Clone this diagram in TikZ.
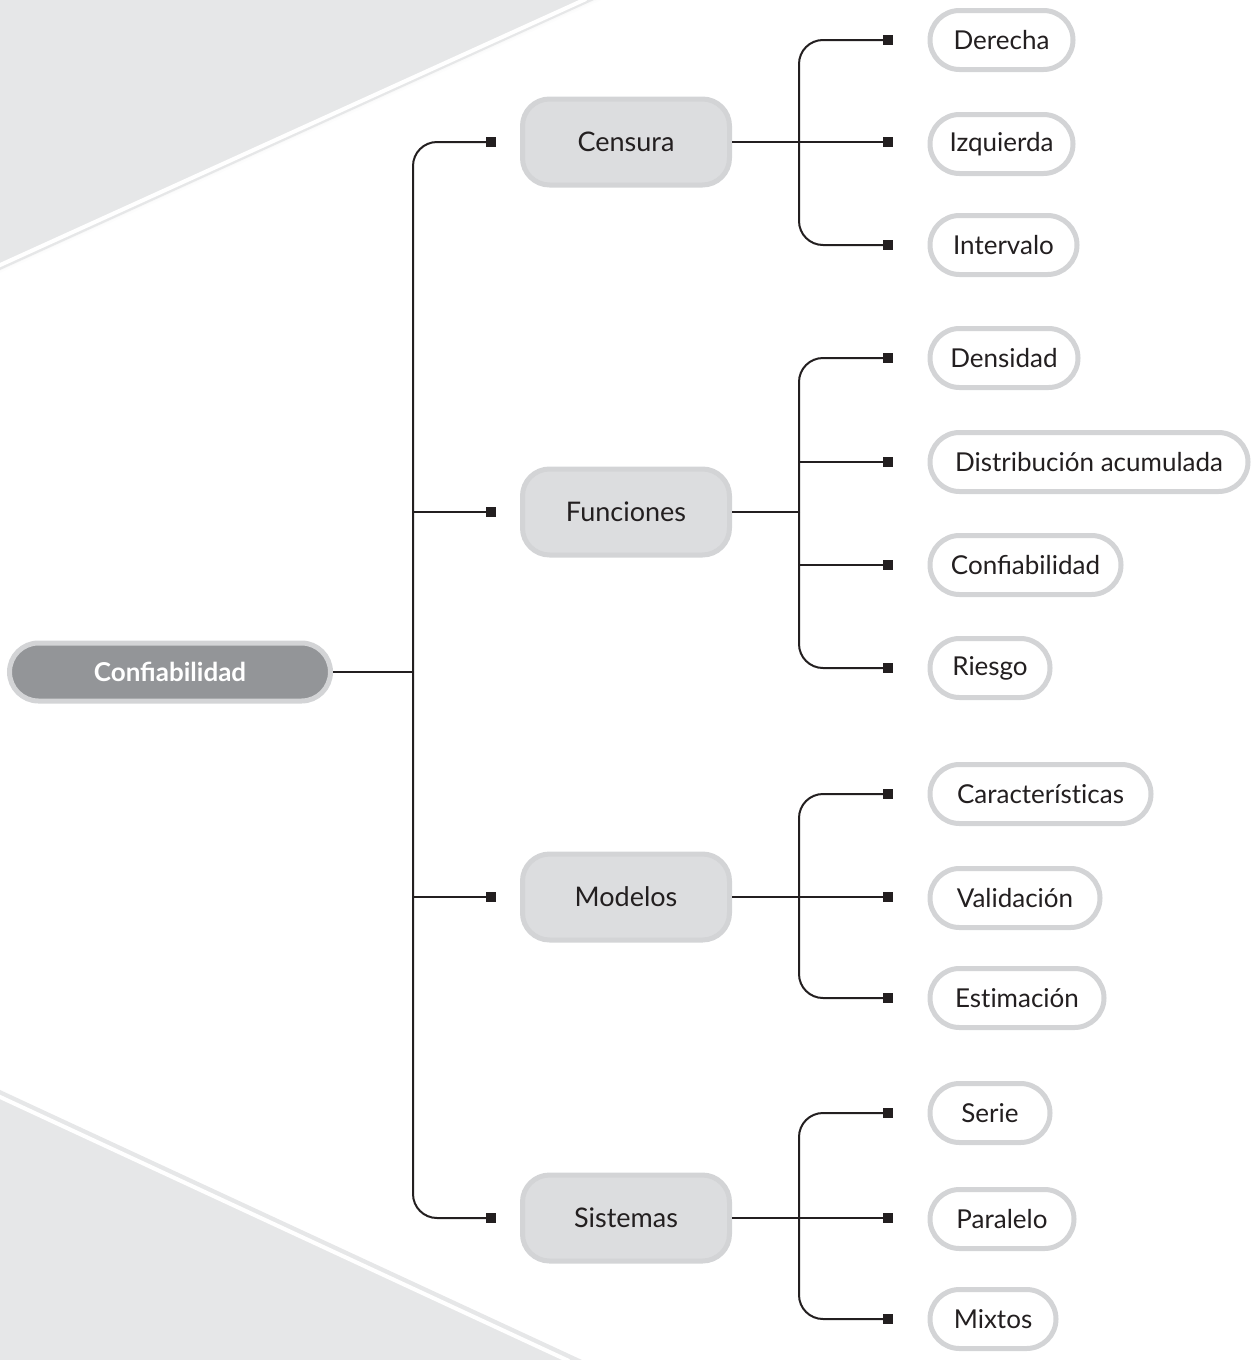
\documentclass[tikz,border=0pt]{standalone}
\usepackage{fontspec}
\setmainfont{Lato}
\usetikzlibrary{arrows.meta}
\definecolor{bggray}{HTML}{E6E7E8}
\definecolor{rimgray}{HTML}{D3D4D6}
\definecolor{midfill}{HTML}{DCDDDF}
\definecolor{rootfill}{HTML}{939598}
\definecolor{ink}{HTML}{231F20}
\tikzset{
  rootbox/.style={draw=rimgray, line width=5pt, fill=rootfill, rounded corners=29pt,
    minimum width=321pt, minimum height=58pt, inner sep=0pt,
    text=white, font=\fontsize{26}{30}\selectfont\bfseries},
  midbox/.style={draw=rimgray, line width=5pt, fill=midfill, rounded corners=27pt,
    minimum width=207pt, minimum height=86pt, inner sep=0pt,
    text=ink, font=\fontsize{27}{31}\selectfont},
  leafbox/.style={draw=rimgray, line width=5pt, fill=white, rounded corners=29.5pt,
    minimum height=59pt, inner sep=0pt, anchor=west,
    text=ink, font=\fontsize{26}{30}\selectfont},
  conn/.style={draw=ink, line width=2pt},
  sq/.style={conn, -{Square[length=10pt,width=10pt]}},
  bus/.style={rounded corners=24pt}
}
\begin{document}
\begin{tikzpicture}[x=1pt,y=-1pt]
\useasboundingbox (0,0) rectangle (1251,1360);
% background
\fill[bggray] (0,0) -- (594,0) -- (0,270) -- cycle;
\foreach \o/\op in {2/0.5,4/0.3,6/0.15,8/0.07}{
  \fill[bggray, opacity=\op] (584,0) -- (584+\o*2.2,0) -- (0,265+\o) -- (0,265) -- cycle;}
\draw[white, line width=4pt] (-2,266) -- (586,-1);
\fill[bggray] (0,1360) -- (0,1090) -- (582,1360) -- cycle;
\foreach \o/\op in {2/0.5,4/0.3,6/0.15,8/0.07}{
  \fill[bggray, opacity=\op] (0,1097) -- (0,1097-\o) -- (567-\o*2.2,1360) -- (567,1360) -- cycle;}
\draw[white, line width=4pt] (-2,1096) -- (569,1361);

% nodes
\node[rootbox] (root) at (170,672) {Confiabilidad};
\node[midbox] (cen) at (626,142) {Censura};
\node[midbox] (fun) at (626,512) {Funciones};
\node[midbox] (mod) at (626,897) {Modelos};
\node[midbox] (sis) at (626,1218) {Sistemas};

\node[leafbox, minimum width=143pt] (der) at (927.5,40) {Derecha};
\node[leafbox, minimum width=143pt] (izq) at (927.5,144) {Izquierda};
\node[leafbox, minimum width=147pt] (int) at (927.5,245) {Intervalo};
\node[leafbox, minimum width=148pt] (den) at (927.5,358) {Densidad};
\node[leafbox, minimum width=318pt] (dis) at (927.5,462) {Distribución acumulada};
\node[leafbox, minimum width=191pt] (con) at (927.5,565) {Confiabilidad};
\node[leafbox, minimum width=120pt] (rie) at (927.5,668) {Riesgo};
\node[leafbox, minimum width=221pt] (car) at (927.5,794) {Característ\kern0pt icas};
\node[leafbox, minimum width=170pt] (val) at (927.5,898) {Validación};
\node[leafbox, minimum width=174pt] (est) at (927.5,998) {Est\kern0pt imación};
\node[leafbox, minimum width=120pt] (ser) at (927.5,1113) {Serie};
\node[leafbox, minimum width=144pt] (par) at (927.5,1219) {Paralelo};
\node[leafbox, minimum width=126pt] (mix) at (927.5,1319) {Mixtos};

% tip coordinates
\coordinate (tx) at (413,0);
\coordinate (bx) at (799,0);
\foreach \n in {cen,fun,mod,sis}{\coordinate (\n T) at ([xshift=-24.5pt]\n.west);}
\foreach \n in {der,izq,int,den,dis,con,rie,car,val,est,ser,par,mix}{\coordinate (\n T) at ([xshift=-34.5pt]\n.west);}

% trunk
\draw[conn] (root.east) -- (root.east -| tx);
\draw[sq, bus] (root.east -| tx) |- (cenT);
\draw[sq, bus] (root.east -| tx) |- (sisT);
\draw[sq] (funT -| tx) -- (funT);
\draw[sq] (modT -| tx) -- (modT);

% Censura
\draw[sq] (cen.east) -- (cen.east -| izqT);
\draw[sq, bus] (cen.east -| bx) |- (derT);
\draw[sq, bus] (cen.east -| bx) |- (intT);
% Funciones
\draw[conn] (fun.east) -- (fun.east -| bx);
\draw[sq, bus] (fun.east -| bx) |- (denT);
\draw[sq, bus] (fun.east -| bx) |- (rieT);
\draw[sq] (disT -| bx) -- (disT);
\draw[sq] (conT -| bx) -- (conT);
% Modelos
\draw[sq] (mod.east) -- (mod.east -| valT);
\draw[sq, bus] (mod.east -| bx) |- (carT);
\draw[sq, bus] (mod.east -| bx) |- (estT);
% Sistemas
\draw[sq] (sis.east) -- (sis.east -| parT);
\draw[sq, bus] (sis.east -| bx) |- (serT);
\draw[sq, bus] (sis.east -| bx) |- (mixT);
\end{tikzpicture}
\end{document}
